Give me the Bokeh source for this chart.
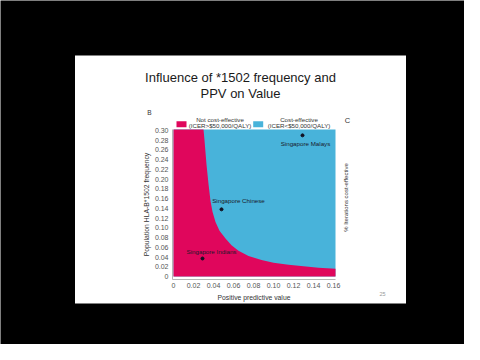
from math import pi
from bokeh.plotting import figure
from bokeh.models import Range1d, LinearAxis, FixedTicker, CustomJSTickFormatter
from bokeh.core.properties import value
from bokeh.embed import file_html
from bokeh.resources import INLINE

# ---------------- data ----------------
title_lines = ["Influence of *1502 frequency and", "PPV on Value"]
x_ticks = [0, 0.02, 0.04, 0.06, 0.08, 0.10, 0.12, 0.14, 0.16]
y_ticks = [0, 0.02, 0.04, 0.06, 0.08, 0.10, 0.12, 0.14, 0.16, 0.18, 0.20,
           0.22, 0.24, 0.26, 0.28, 0.30]
x_label = "Positive predictive value"
y_label = "Population HLA-B*1502 frequency"
right_label = "% Iterations cost-effective"

# threshold curve (cost-effective above/right of it)
boundary_ppv = [0.000, 0.030, 0.031, 0.033, 0.035, 0.037, 0.039, 0.042, 0.046,
                0.052, 0.058, 0.065, 0.075, 0.088, 0.100, 0.115, 0.130, 0.145, 0.162]
boundary_freq = [0.302, 0.302, 0.280, 0.230, 0.190, 0.155, 0.133, 0.112, 0.094,
                 0.078, 0.064, 0.053, 0.042, 0.034, 0.028, 0.024, 0.021, 0.018, 0.016]

pop_names = ["Singapore Malays", "Singapore Chinese", "Singapore Indians"]
pop_ppv = [0.129, 0.048, 0.029]
pop_freq = [0.290, 0.138, 0.037]

legend_names = ["Not cost-effective", "Cost-effective"]
legend_notes = ["(ICER>$50,000/QALY)", "(ICER<$50,000/QALY)"]

# ---------------- style ----------------
PINK = "#E0065C"
BLUE = "#48B3DA"
FONT = value("Liberation Sans")
FONT_NAME = "Liberation Sans"
W, H = 464, 344


def Y(v):
    # page pixel (from top) -> canvas y (from bottom)
    return H - v


p = figure(width=W, height=H,
           x_range=Range1d(0, W), y_range=Range1d(0, H),
           output_backend="svg", toolbar_location=None,
           x_axis_location=None, y_axis_location=None, min_border=0)
p.extra_x_ranges = {"ppv": Range1d(-0.173, 0.291)}
# freq 0 at page y 276, 486.7 px per unit
p.extra_y_ranges = {"freq": Range1d(-(H - 276) / 486.7, 276 / 486.7)}
p.background_fill_color = "black"
p.border_fill_color = "black"
p.outline_line_color = None
p.xgrid.visible = False
p.ygrid.visible = False

# slide background
p.quad(left=74.5, right=405.5, top=Y(55), bottom=Y(303), fill_color="white",
       line_color=None)

# title
p.text(x=[240, 240], y=[Y(77), Y(93)], text=title_lines, text_font=FONT,
       text_font_size="13px", text_align="center", text_baseline="middle",
       text_color="#1a1a1a")

# panel letters, right axis title, page number
p.text(x=[149], y=[Y(112)], text=["B"], text_font=FONT, text_font_size="6.5px",
       text_align="center", text_baseline="middle", text_color="#333333")
p.text(x=[347], y=[Y(120)], text=["C"], text_font=FONT, text_font_size="7.5px",
       text_align="center", text_baseline="middle", text_color="#333333")
p.text(x=[345], y=[Y(197)], text=[right_label], angle=pi / 2, text_font=FONT,
       text_font_size="6px", text_align="center", text_baseline="middle",
       text_color="#333333")
p.text(x=[382], y=[Y(293)], text=["25"], text_font=FONT, text_font_size="5.5px",
       text_align="center", text_baseline="middle", text_color="#999999")

# legend
legend_colors = [PINK, BLUE]
legend_sq_left = [176, 252.7]
legend_text_x = [219.5, 298.5]
for i in range(2):
    p.quad(left=legend_sq_left[i], right=legend_sq_left[i] + 10, top=Y(120.7),
           bottom=Y(126.7), fill_color=legend_colors[i], line_color=None)
    p.text(x=[legend_text_x[i], legend_text_x[i]], y=[Y(118.7), Y(125.3)],
           text=[legend_names[i], legend_notes[i]], text_font=FONT,
           text_font_size="6.2px", text_align="center", text_baseline="middle",
           text_color="#333333")

# regions
p.quad(left=boundary_ppv[0], right=boundary_ppv[-1], bottom=0, top=boundary_freq[0],
       fill_color=BLUE, line_color=None, x_range_name="ppv", y_range_name="freq")
p.varea(x=boundary_ppv, y1=0, y2=boundary_freq, fill_color=PINK,
        x_range_name="ppv", y_range_name="freq")

# populations
p.scatter(x=pop_ppv, y=pop_freq, size=3, color="#111122",
          x_range_name="ppv", y_range_name="freq")
label_dx = [3, 17, 9]
label_dy = [8, -9, -7]
for i in range(3):
    p.text(x=[pop_ppv[i]], y=[pop_freq[i]], text=[pop_names[i]],
           x_offset=label_dx[i], y_offset=label_dy[i], text_font=FONT,
           text_font_size="6.2px", text_align="center", text_baseline="middle",
           text_color="#1a1a2a", x_range_name="ppv", y_range_name="freq")

fmt = CustomJSTickFormatter(code="return tick == 0 ? '0' : tick.toFixed(2);")


def style(ax):
    ax.axis_line_color = "#b5b5b5"
    ax.major_tick_line_color = None
    ax.minor_tick_line_color = None
    ax.major_tick_out = 0
    ax.major_tick_in = 0
    ax.major_label_text_font = FONT_NAME
    ax.major_label_text_font_size = "7px"
    ax.major_label_text_color = "#555555"
    ax.axis_label_text_font = FONT_NAME
    ax.axis_label_text_font_size = "6.8px"
    ax.axis_label_text_font_style = "normal"
    ax.axis_label_text_color = "#333333"


xaxis = LinearAxis(x_range_name="ppv", y_range_name="freq", fixed_location=-0.0062,
                   bounds=(-0.001, 0.162), ticker=FixedTicker(ticks=x_ticks),
                   formatter=fmt, axis_label=x_label)
style(xaxis)
xaxis.major_label_standoff = 3
xaxis.axis_label_standoff = 3
p.add_layout(xaxis, "below")

yaxis = LinearAxis(x_range_name="ppv", y_range_name="freq", fixed_location=-0.001,
                   bounds=(-0.0062, 0.302), ticker=FixedTicker(ticks=y_ticks),
                   formatter=fmt, axis_label=y_label)
style(yaxis)
yaxis.major_label_standoff = 4
yaxis.axis_label_standoff = 2
p.add_layout(yaxis, "left")

open("out.html", "w").write(file_html(p, INLINE))
